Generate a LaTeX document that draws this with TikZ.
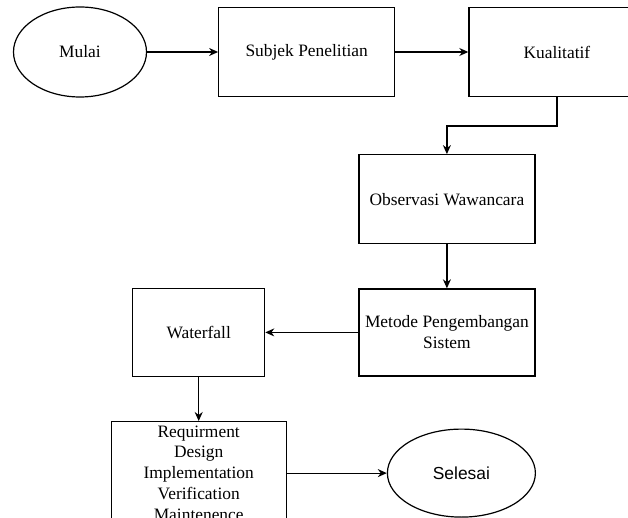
\documentclass[tikz,border=0pt]{standalone}
\usepackage{fontspec}
\setmainfont{Liberation Serif}
\newfontfamily\arialfont{Liberation Sans}
\usepackage{tikz}
\usetikzlibrary{shapes,arrows.meta,positioning}

\begin{document}
\begin{tikzpicture}[
    x=1pt, y=-1pt,
    font=\fontsize{17.4}{20.8}\selectfont,
    box/.style={rectangle, draw, line width=1.2pt, align=center, inner sep=0pt, minimum width=176pt, minimum height=89pt},
    oval/.style={ellipse, draw, line width=1.2pt, align=center, inner sep=0pt},
    arrow/.style={-{Stealth[length=9pt,width=8pt]}, line width=1.2pt}
]
    \useasboundingbox (0,0) rectangle (628,518);
    \clip (0,0) rectangle (628,518);

    % Top row
    \node[oval, minimum width=133pt, minimum height=90pt] (mulai) at (80,52) {Mulai};
    \node[box, right=71pt of mulai] (subjek) {Subjek Penelitian};
    \node[box, right=73pt of subjek] (kual) {Kualitatif};

    % Middle
    \node[box, below=57pt of kual, xshift=-110pt] (obs) {Observasi Wawancara};
    \node[box, below=44pt of obs, minimum height=87pt] (metode) {Metode Pengembangan\\Sistem};
    \node[box, left=93pt of metode, minimum width=132pt, minimum height=88pt] (waterfall) {Waterfall};

    % Bottom
    \node[box, below=44pt of waterfall, minimum width=175pt, minimum height=103pt] (tahap) {Requirment\\Design\\Implementation\\Verification\\Maintenence};
    \node[oval, right=100pt of tahap, minimum width=148pt, minimum height=88pt, font=\arialfont\fontsize{17.4}{20.8}\selectfont] (selesai) {Selesai};

    % Connections
    \draw[arrow] (mulai) -- (subjek);
    \draw[arrow] (subjek) -- (kual);
    \draw[arrow] (kual.south) -- ++(0,29) -| (obs.north);
    \draw[arrow] (obs) -- (metode);
    \draw[arrow] (metode) -- (waterfall);
    \draw[arrow] (waterfall) -- (tahap);
    \draw[arrow] (tahap) -- (selesai);
\end{tikzpicture}
\end{document}
